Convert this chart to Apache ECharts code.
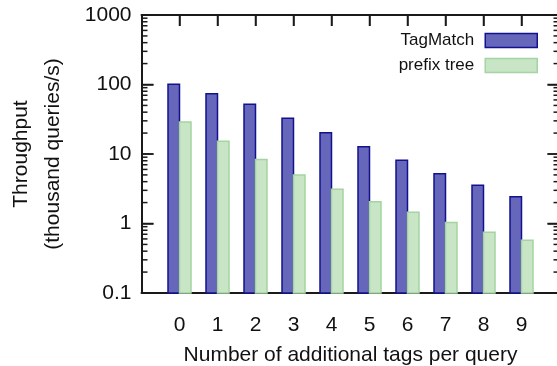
<!DOCTYPE html>
<html>
<head>
<meta charset="utf-8">
<script src="https://cdn.jsdelivr.net/npm/echarts@6/dist/echarts.min.js"></script>
<style>
html,body{margin:0;padding:0;background:#fff;}
#c{width:557px;height:366px;}
</style>
</head>
<body>
<div id="c"></div>
<script>
var categories = [0, 1, 2, 3, 4, 5, 6, 7, 8, 9];
var tagMatch = [101, 73.8, 51.9, 32.6, 20.3, 12.7, 8.1, 5.2, 3.54, 2.43];
var prefixTree = [28.9, 15.2, 8.3, 4.99, 3.1, 2.06, 1.45, 1.03, 0.746, 0.573];
var yTickLabels = ['0.1', '1', '10', '100', '1000'];
var majorTickValues = [0.1, 1, 10, 100, 1000];
var minorTickValues = [];
[0.1, 1, 10, 100].forEach(function (d) {
  for (var k = 2; k <= 9; k++) minorTickValues.push(+(d * k).toPrecision(3));
});

var FONT = 'Liberation Sans, Arial, Helvetica, sans-serif';
var X_MIN = -1, X_MAX = 10;
var Y_MIN = 0.1, Y_MAX = 1000;
var BAR_W = 11.5;
var TICK = '#1a1a1a';
var TAG_STYLE = {color: '#6666bb', borderColor: '#12128e', borderWidth: 1.5};
var PRE_STYLE = {color: '#c8e5c6', borderColor: '#a3d4a1', borderWidth: 1.5};

var chart = echarts.init(document.getElementById('c'), null, {renderer: 'canvas'});
var frameLine = {show: true, onZero: false, lineStyle: {color: TICK, width: 2}};

function barRenderer(offsetSign) {
  return function (params, api) {
    var c = api.value(0);
    var top = api.coord([c, api.value(1)]);
    var base = api.coord([c, Y_MIN]);
    var x = offsetSign < 0 ? top[0] - BAR_W : top[0];
    return {
      type: 'rect',
      shape: {x: x, y: top[1], width: BAR_W, height: base[1] - top[1]},
      style: api.style()
    };
  };
}

chart.setOption({
  animation: false,
  grid: {left: 141.5, right: -2.5, top: 15, bottom: 73, outerBoundsMode: 'none'},
  legend: {
    orient: 'vertical',
    right: 19,
    top: 32,
    padding: 0,
    align: 'right',
    icon: 'rect',
    itemWidth: 52,
    itemHeight: 14,
    itemGap: 8,
    selectedMode: false,
    textStyle: {fontSize: 17, color: '#111', fontFamily: FONT, padding: [0, 6, 0, 0]},
    data: [
      {name: 'TagMatch', icon: 'rect', itemStyle: TAG_STYLE},
      {name: 'prefix tree', icon: 'rect', itemStyle: PRE_STYLE}
    ]
  },
  xAxis: [{
    type: 'value', min: X_MIN, max: X_MAX, interval: 1,
    name: 'Number of additional tags per query',
    nameLocation: 'middle',
    nameGap: 52,
    nameTextStyle: {fontSize: 21, color: '#111', fontFamily: FONT},
    axisLine: frameLine,
    axisTick: {show: false},
    splitLine: {show: false},
    axisLabel: {
      fontSize: 21, color: '#111', margin: 22, fontFamily: FONT,
      formatter: function (v) { return categories.indexOf(v) >= 0 ? String(v) : ''; }
    }
  }, {
    type: 'value', min: X_MIN, max: X_MAX, interval: 1, position: 'top',
    axisLine: frameLine,
    splitLine: {show: false},
    axisTick: {show: true, inside: true, length: 11, lineStyle: {color: TICK, width: 1.5}},
    axisLabel: {show: false}
  }],
  yAxis: [{
    type: 'log', min: Y_MIN, max: Y_MAX,
    name: 'Throughput\n(thousand queries/s)',
    nameLocation: 'middle',
    nameRotate: 90,
    nameGap: 72,
    nameTextStyle: {fontSize: 21, color: '#111', lineHeight: 32, fontFamily: FONT},
    axisLine: frameLine,
    splitLine: {show: false},
    axisTick: {show: true, inside: true, length: 12, lineStyle: {color: TICK, width: 1.5}},
    axisLabel: {
      fontSize: 21, color: '#111', margin: 10, fontFamily: FONT,
      formatter: function (v) {
        var e = Math.round(Math.log10(v));
        return yTickLabels[e + 1] || '';
      }
    }
  }, {
    type: 'log', min: Y_MIN, max: Y_MAX, position: 'right',
    axisLine: frameLine,
    splitLine: {show: false},
    axisTick: {show: true, inside: true, length: 12, lineStyle: {color: TICK, width: 1.5}},
    axisLabel: {show: false}
  }],
  series: [{
    name: 'TagMatch',
    type: 'custom',
    itemStyle: TAG_STYLE,
    renderItem: barRenderer(-1),
    encode: {x: 0, y: 1},
    data: categories.map(function (c, i) { return [c, tagMatch[i]]; })
  }, {
    name: 'prefix tree',
    type: 'custom',
    itemStyle: PRE_STYLE,
    renderItem: barRenderer(1),
    encode: {x: 0, y: 1},
    data: categories.map(function (c, i) { return [c, prefixTree[i]]; })
  }]
});

// Mirror ticks (left, right, top) drawn on an upper layer, positioned through the axes' own scales
var leftX = chart.convertToPixel({xAxisIndex: 0}, X_MIN);
var rightX = chart.convertToPixel({xAxisIndex: 0}, X_MAX);
var topY = chart.convertToPixel({yAxisIndex: 0}, Y_MAX);
var tickEls = [];
function tickLine(x1, y1, x2, y2) {
  tickEls.push({
    type: 'line', zlevel: 3, z: 100, silent: true,
    shape: {x1: x1, y1: y1, x2: x2, y2: y2},
    style: {stroke: TICK, lineWidth: 1.5}
  });
}
majorTickValues.forEach(function (v) {
  var y = chart.convertToPixel({yAxisIndex: 0}, v);
  tickLine(leftX, y, leftX + 12, y);
  tickLine(rightX - 12, y, rightX, y);
});
minorTickValues.forEach(function (v) {
  var y = chart.convertToPixel({yAxisIndex: 0}, v);
  tickLine(leftX, y, leftX + 6, y);
  tickLine(rightX - 6, y, rightX, y);
});
categories.forEach(function (c) {
  var x = chart.convertToPixel({xAxisIndex: 0}, c);
  tickLine(x, topY, x, topY + 11);
});
chart.setOption({graphic: {elements: tickEls}});
</script>
</body>
</html>
